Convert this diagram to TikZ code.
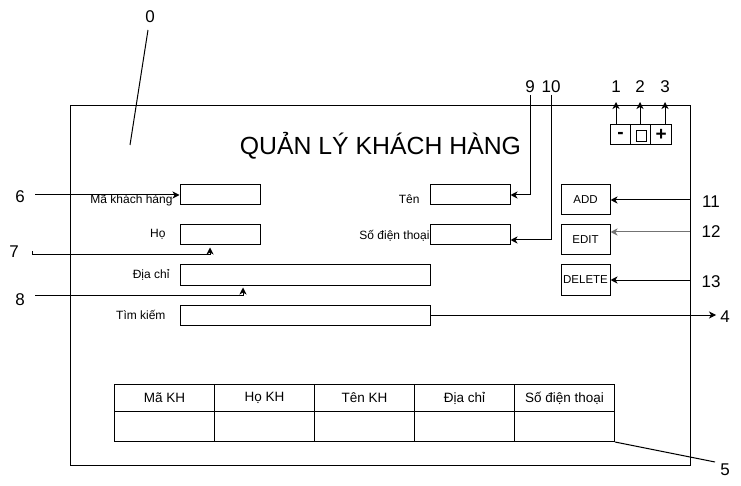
\documentclass[tikz,border=0pt]{standalone}
\usepackage{fontspec}
\setmainfont{Liberation Sans}
\usetikzlibrary{arrows.meta,calc}
\begin{document}
\begin{tikzpicture}[x=1pt,y=-1pt,line width=1pt,
  arr/.style={-{Stealth[length=7pt,width=7pt,inset=2pt]}},
  field/.style={draw,minimum width=80pt,minimum height=20pt,inner sep=0pt},
  wfield/.style={draw,minimum width=250pt,minimum height=20pt,inner sep=0pt},
  lbl/.style={anchor=east,inner sep=0pt,text height=8.6pt,text depth=2.6pt,font=\fontsize{12}{14}\selectfont},
  btn/.style={draw,minimum width=49pt,minimum height=30pt,inner sep=0pt,font=\fontsize{11.5}{13}\selectfont},
  ctl/.style={draw,minimum width=20.3pt,minimum height=20pt,inner sep=0pt,font=\fontsize{19}{21}\selectfont\bfseries},
  num/.style={inner sep=0pt,text height=12.2pt,text depth=0pt,font=\fontsize{17}{19}\selectfont},
  cell/.style={draw,minimum width=100pt,inner sep=0pt,anchor=north west,font=\fontsize{13.5}{15}\selectfont}]
\useasboundingbox (0,0) rectangle (741,486);

% main frame
\node[draw,minimum width=620pt,minimum height=360pt,inner sep=0pt,anchor=north west] (frame) at (70,105) {};

% title
\node[font=\fontsize{24.8}{28}\selectfont,inner sep=0pt] (title) at (380.5,146) {QUẢN LÝ KHÁCH HÀNG};

% fields
\node[field] (ma) at (220,195) {};
\node[field] (ho) at (220,235) {};
\node[wfield] (diachi) at (305,275) {};
\node[wfield] (tim) at (305,315) {};
\node[field] (ten) at (470,195) {};
\node[field] (sdt) at (470,235) {};

% labels
\node[lbl] (lma) at (173,201) {Mã khách hàng};
\node[lbl] (lho) at (166,235) {Họ};
\node[lbl] (ldc) at (170,276) {Địa chỉ};
\node[lbl] (ltk) at (166,316) {Tìm kiếm};
\node[lbl] (lten) at (420,201) {Tên};
\node[lbl] (lsdt) at (430,237) {Số điện thoại};

% buttons
\node[btn] (add) at (585.5,200) {ADD};
\node[btn] (edit) at (585.5,240) {EDIT};
\node[btn] (delete) at (585.5,280) {DELETE};

% window controls
\node[ctl] (cmin) at (620.5,135) {-};
\node[ctl] (cmax) at (640.8,135) {};
\node[draw,line width=0.9pt,minimum width=10pt,minimum height=11pt,inner sep=0pt] (sq) at (641,135.5) {};
\node[ctl] (cplus) at (661.1,135) {+};

% table
\foreach \i/\t in {0/Mã KH,1/Họ KH,2/Tên KH,3/Địa chỉ,4/Số điện thoại} {
  \node[cell,minimum height=27pt] (h\i) at ({114+100*\i},384) {\t};
  \node[cell,minimum height=30pt] (b\i) at ({114+100*\i},411) {};
}

% number labels
\node[num] (n0) at (150,16) {0};
\node[num] (n1) at (616,86) {1};
\node[num] (n2) at (640,86) {2};
\node[num] (n3) at (665,86) {3};
\node[num] (n4) at (725,316) {4};
\node[num] (n5) at (725,469) {5};
\node[num] (n6) at (20,196) {6};
\node[num] (n7) at (14,251) {7};
\node[num] (n8) at (20,299) {8};
\node[num] (n9) at (530,86) {9};
\node[num] (n10) at (551,86) {10};
\node[num] (n11) at (711,201) {11};
\node[num] (n12) at (711,231) {12};
\node[num] (n13) at (711,281) {13};

% connector end points
\coordinate (s0) at (148,30);
\coordinate (e0) at (130,145);
\coordinate (s6) at (35,195);
\coordinate (s7) at (32,251);
\coordinate (s8) at (35,295);
\coordinate (s9) at (530,95);
\coordinate (s10) at (551,95);
\coordinate (t1) at (616,102);
\coordinate (t2) at (640,102);
\coordinate (t3) at (665,102);
\coordinate (s11) at (690,200);
\coordinate (s12) at (690,232);
\coordinate (s13) at (690,280);
\coordinate (e5) at (715,462);
\coordinate (e4) at (716,315);

% connectors
\draw (s0) -- (e0);
\draw[arr] (s6) -- (ma.west);
\draw[arr] (s7) -- ++(0,4) -| ([xshift=-10pt,yshift=-2pt]ho.south);
\draw[arr] (s8) -| ([xshift=-62pt,yshift=-2pt]diachi.south);
\draw[arr] (tim.east) -- (e4);
\draw[arr] (s9) |- (ten.east);
\draw[arr] (s10) |- ([yshift=-5pt]sdt.east);
\draw[arr] ([xshift=-4.5pt]cmin.north) -- (t1);
\draw[arr] ([xshift=-0.8pt]cmax.north) -- (t2);
\draw[arr] ([xshift=3.9pt]cplus.north) -- (t3);
\draw[arr] (s11) -- (add.east);
\draw[arr,draw=black!55,fill=black] (s12) -- ([yshift=8pt]edit.east);
\draw[arr] (s13) -- (delete.east);
\draw (b4.south east) -- (e5);
\end{tikzpicture}
\end{document}
